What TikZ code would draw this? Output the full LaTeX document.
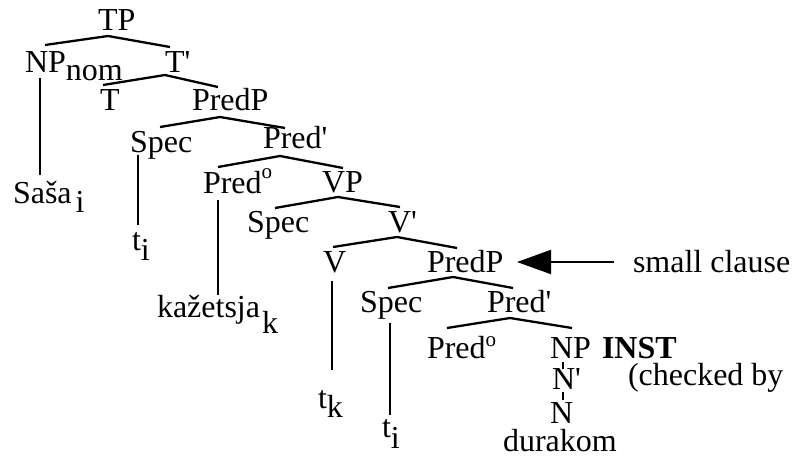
\documentclass[tikz,border=0pt]{standalone}
\usepackage{fontspec}
\setmainfont{Liberation Serif}
\usetikzlibrary{arrows.meta}
\newcommand{\bigf}{\fontsize{32}{38}\selectfont}
\newcommand{\supo}[1]{\raisebox{#1}{\fontsize{21}{21}\selectfont o}}
\newcommand{\subl}[2]{\raisebox{-#1}{#2}}
\newcommand{\pr}{\textquotesingle}
\begin{document}
\begin{tikzpicture}[x=1pt,y=-1pt,
  lbl/.style={anchor=base west,inner sep=0pt,outer sep=0pt,font=\bigf},
  branch/.style={line width=2.3pt,line join=miter},
  stem/.style={line width=2.3pt}]
\useasboundingbox (0,0) rectangle (800,461);
% labels
\node[lbl] (tp) at (98,30) {TP};
\node[lbl] (npnom) at (25,72) {NP\subl{8pt}{nom}};
\node[lbl] (tbar) at (165,72) {T\pr};
\node[lbl] (t) at (100,110) {T};
\node[lbl] (predp) at (192,110) {PredP};
\node[lbl] (spec1) at (130,152) {Spec};
\node[lbl] (predbar) at (263,148) {Pred\pr};
\node[lbl] (sasa) at (13,203) {Saša\kern4pt\subl{9pt}{i}};
\node[lbl] (ti1) at (132,250) {t\subl{10pt}{i}};
\node[lbl] (predo) at (203,193) {Pred\supo{15pt}};
\node[lbl] (vp) at (322,192) {VP};
\node[lbl] (spec2) at (247,232) {Spec};
\node[lbl] (vbar) at (388,232) {V\pr};
\node[lbl] (v) at (323,272) {V};
\node[lbl] (predp2) at (427,272) {PredP};
\node[lbl] (sc) at (633,272) {small clause};
\node[lbl] (kaz) at (157,317) {kažetsja\kern2pt\subl{16pt}{k}};
\node[lbl] (spec3) at (360,312) {Spec};
\node[lbl] (predbar2) at (487,312) {Pred\pr};
\node[lbl] (predo2) at (427,358) {Pred\supo{12pt}};
\node[lbl] (np3) at (550,358) {NP};
\node[lbl] (inst) at (602,358) {\bfseries INST};
\node[lbl] (nbar) at (552,389) {N\pr};
\node[lbl] (checked) at (628,385) {(checked by};
\node[lbl] (n) at (550,423) {N};
\node[lbl] (durakom) at (503,451) {durakom};
\node[lbl] (tk) at (318,408) {t\subl{9pt}{k}};
\node[lbl] (ti2) at (382,437) {t\subl{11pt}{i}};
% branch points
\coordinate (b1l) at (45,45);   \coordinate (b1a) at (108,36);  \coordinate (b1r) at (170,47);
\coordinate (b2l) at (103,85);  \coordinate (b2a) at (165,75);  \coordinate (b2r) at (218,87);
\coordinate (b3l) at (160,127); \coordinate (b3a) at (220,117); \coordinate (b3r) at (285,128);
\coordinate (b4l) at (218,167); \coordinate (b4a) at (280,156); \coordinate (b4r) at (343,168);
\coordinate (b5l) at (275,208); \coordinate (b5a) at (338,197); \coordinate (b5r) at (400,207);
\coordinate (b6l) at (333,247); \coordinate (b6a) at (397,237); \coordinate (b6r) at (457,248);
\coordinate (b7l) at (388,288); \coordinate (b7a) at (453,277); \coordinate (b7r) at (513,288);
\coordinate (b8l) at (447,328); \coordinate (b8a) at (510,318); \coordinate (b8r) at (572,328);
\foreach \i in {1,...,8}{\draw[branch] (b\i l) -- (b\i a) -- (b\i r);}
% stems
\coordinate (s1t) at (40,78);   \coordinate (s1b) at (40,175);
\coordinate (s2t) at (138,155); \coordinate (s2b) at (138,225);
\coordinate (s3t) at (218,200); \coordinate (s3b) at (218,295);
\coordinate (s4t) at (332,281); \coordinate (s4b) at (332,370);
\coordinate (s5t) at (390,323); \coordinate (s5b) at (390,415);
\coordinate (s6t) at (563,362); \coordinate (s6b) at (563,369);
\coordinate (s7t) at (563,392); \coordinate (s7b) at (563,400);
\foreach \i in {1,...,7}{\draw[stem] (s\i t) -- (s\i b);}
% arrow
\coordinate (arrs) at (614,262);
\coordinate (arre) at (517,262);
\draw[line width=2pt,-{Triangle[length=34pt,width=24pt]}] (arrs) -- (arre);
\end{tikzpicture}
\end{document}
